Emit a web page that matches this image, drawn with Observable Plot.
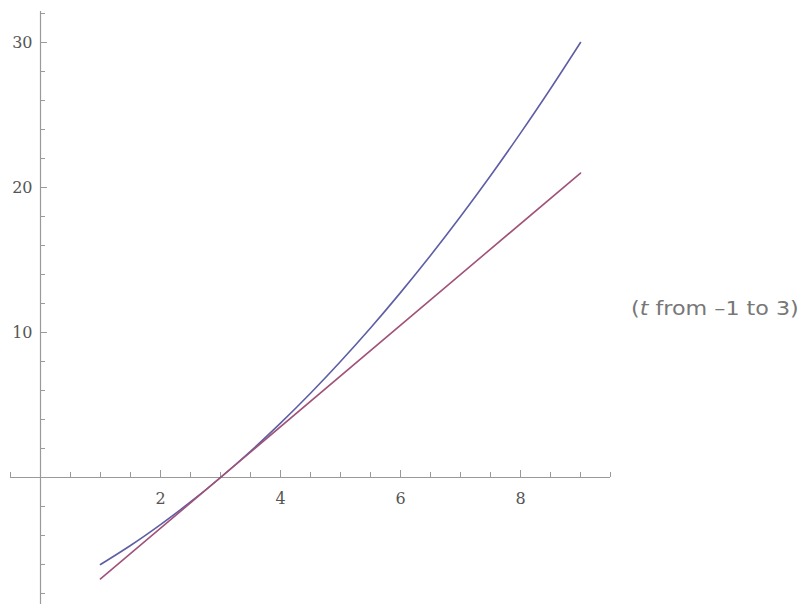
<!DOCTYPE html>
<html>
<head>
<meta charset="utf-8">
<script src="https://cdn.jsdelivr.net/npm/d3@7"></script>
<script src="https://cdn.jsdelivr.net/npm/@observablehq/plot@0.6"></script>
<style>
  html, body { margin: 0; padding: 0; background: #fff; }
  #wrap { position: relative; width: 802px; height: 604px; }
  #range {
    position: absolute; left: 631px; top: 297px;
    font-family: "DejaVu Sans", sans-serif; font-size: 19px; color: #777;
    white-space: nowrap; transform: scaleX(1.17); transform-origin: left center;
  }
  #range i { font-style: italic; }
</style>
</head>
<body>
<div id="wrap">
  <div id="chart"></div>
  <div id="range">(<i>t</i> from –1 to 3)</div>
</div>
<script>
// Parametric curve sampled along x (t from -1 to 3)
const curveX = [1, 1.5, 2, 2.5, 3, 3.5, 4, 4.5, 5, 5.5, 6, 6.5, 7, 7.5, 8, 8.5, 9];
const curveY = [-6, -4.69, -3.25, -1.69, 0, 1.81, 3.75, 5.81, 8, 10.31, 12.75, 15.31, 18, 20.81, 23.75, 26.81, 30];

// Tangent line at (3, 0)
const tangentX = [1, 9];
const tangentY = [-7, 21];

// Axis ticks and labels
const xMinorTicks = [-0.5, 0.5, 1, 1.5, 2, 2.5, 3, 3.5, 4, 4.5, 5, 5.5, 6, 6.5, 7, 7.5, 8, 8.5, 9, 9.5];
const xLabels = [2, 4, 6, 8];
const yMinorTicks = [-8, -6, -4, -2, 2, 4, 6, 8, 12, 14, 16, 18, 22, 24, 26, 28, 32];
const yLabels = [10, 20, 30];

const curve = curveX.map((x, i) => ({x, y: curveY[i]}));
const tangent = tangentX.map((x, i) => ({x, y: tangentY[i]}));

const axisColor = "#9a9a9a";
const labelFont = "DejaVu Serif, serif";

const chart = Plot.plot({
  width: 802,
  height: 604,
  marginLeft: 10,
  marginRight: 192,
  marginTop: 11,
  marginBottom: 0,
  x: {domain: [-0.5, 9.5], axis: null},
  y: {domain: [-8.76, 32.14], axis: null},
  style: {background: "white"},
  marks: [
    // axis lines through the origin
    Plot.ruleY([0], {stroke: axisColor, strokeWidth: 1.2}),
    Plot.ruleX([0], {stroke: axisColor, strokeWidth: 1.2}),
    // x ticks pointing up from the axis
    Plot.ruleX(xMinorTicks, {x: d => d, y1: 0, y2: 0, insetTop: -5, stroke: axisColor}),
    Plot.ruleX(xLabels, {x: d => d, y1: 0, y2: 0, insetTop: -7, stroke: axisColor}),
    // y ticks pointing right from the axis
    Plot.ruleY(yMinorTicks, {y: d => d, x1: 0, x2: 0, insetRight: -5, stroke: axisColor}),
    Plot.ruleY(yLabels, {y: d => d, x1: 0, x2: 0, insetRight: -7, stroke: axisColor}),
    // tick labels
    Plot.text(xLabels, {x: d => d, y: 0, text: d => String(d), dy: 21,
      fontFamily: labelFont, fontSize: 16, fill: "#555"}),
    Plot.text(yLabels, {x: 0, y: d => d, text: d => String(d), dx: -8, textAnchor: "end",
      fontFamily: labelFont, fontSize: 16, fill: "#555"}),
    // curve and tangent
    Plot.line(curve, {x: "x", y: "y", curve: "natural", stroke: "#5e5ea6", strokeWidth: 1.6}),
    Plot.line(tangent, {x: "x", y: "y", stroke: "#a05278", strokeWidth: 1.6})
  ]
});
document.getElementById("chart").append(chart);
</script>
</body>
</html>
